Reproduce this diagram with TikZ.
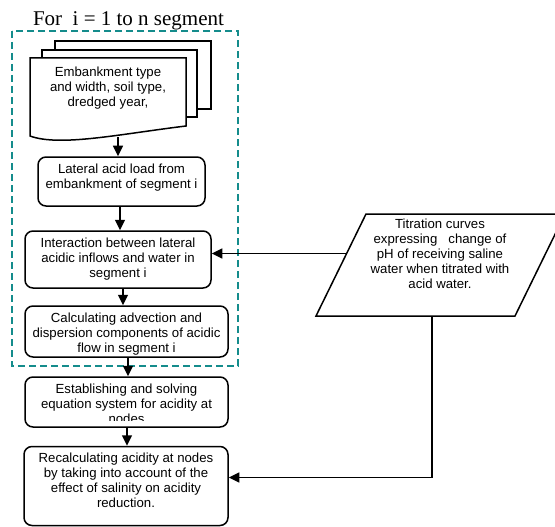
\documentclass[tikz,border=0pt]{standalone}
\usepackage{fontspec}
\setmainfont{Liberation Serif}
\newfontfamily\arialf{Liberation Sans}
\usetikzlibrary{arrows.meta}
\definecolor{teal1}{RGB}{20,140,140}
\begin{document}
\begin{tikzpicture}[x=1pt,y=-1pt,
  boxst/.style={draw, line width=1.5pt, rounded corners=8pt, inner sep=0pt, fill=white},
  txt/.style={font=\arialf\fontsize{13.2}{15}\selectfont, align=center, inner sep=0pt, anchor=north},
  arr/.style={line width=1.6pt, -{Triangle[length=10.5pt,width=10pt]}},
  sheet/.style={draw, line width=1.5pt, fill=white},
  frame/.style={draw=teal1, line width=1.3pt, dash pattern=on 7pt off 4pt}
  ]
\useasboundingbox (0,0) rectangle (555,527);
\clip (0,0) rectangle (555,527);

% title
\node[font=\fontsize{21}{25}\selectfont, anchor=base, inner sep=0pt] (title) at (128.5,26) {For\ \ i = 1 to n segment};

% dashed loop frame
\path[frame] (12,31) rectangle (238,366);

% multi-document
\path[sheet] (55,41) rectangle (211,109);
\path[sheet] (42,50) rectangle (197,117);
\path[sheet] (30,58) -- (186,58) -- (186,126) .. controls (120,134) and (60,147) .. (30,136) -- cycle;
\node[txt] (doct) at (108,65.5) {\strut Embankment type\\and width, soil type,\\dredged year,};
\coordinate (docb) at (118,137);

% boxes
\node[boxst, minimum width=167pt, minimum height=49pt] (b1) at (121.5,181.5) {};
\node[txt] (b1t) at (121.5,162.5) {\strut Lateral acid load from\\embankment of segment i};

\node[boxst, minimum width=186pt, minimum height=57pt] (b2) at (118,259.5) {};
\node[txt] (b2t) at (118,236.5) {\strut Interaction between lateral\\acidic inflows and water in\\segment i};

\node[boxst, minimum width=203pt, minimum height=51pt] (b3) at (126.5,331.5) {};
\node[txt] (b3t) at (126.5,311.5) {\strut Calculating advection and\\dispersion components of acidic\\flow in segment i};

\node[boxst, minimum width=203pt, minimum height=50pt] (b4) at (126.5,402) {};
\begin{scope}
\clip (25,377) rectangle (228,420.7);
\node[txt] (b4t) at (126.5,383) {\strut Establishing and solving\\equation system for acidity at\\nodes};
\end{scope}

\node[boxst, minimum width=204pt, minimum height=79pt] (b5) at (126,486) {};
\node[txt] (b5t) at (126,451.5) {\strut Recalculating acidity at nodes\\by taking into account of the\\effect of salinity on acidity\\reduction.};

% parallelogram
\path[sheet] (366,214) -- (565,214) -- (515,316) -- (316,316) -- cycle;
\node[txt] (pt) at (440,217.5) {\strut Titration curves\\expressing\ \ \ change of\\pH of receiving saline\\water when titrated with\\acid water.};
\coordinate (pl) at (346.5,253.5);
\coordinate (pb) at (432,316);
\coordinate (pc) at (432,477.5);

% connectors
\draw[arr] (docb) -- (b1.north -| docb);
\draw[arr] (b1.south -| 120,0) -- (b2.north -| 120,0);
\draw[arr] (b2.south -| 123,0) -- (b3.north -| 123,0);
\draw[arr] (b3.south -| 128,0) -- (b4.north -| 128,0);
\draw[arr] (b4.south -| 127,0) -- (b5.north -| 127,0);
\draw[arr] (pl) -- (b2.east |- pl);
\draw[arr] (pb) -- (pc) -- (b5.east |- pc);
\end{tikzpicture}
\end{document}
